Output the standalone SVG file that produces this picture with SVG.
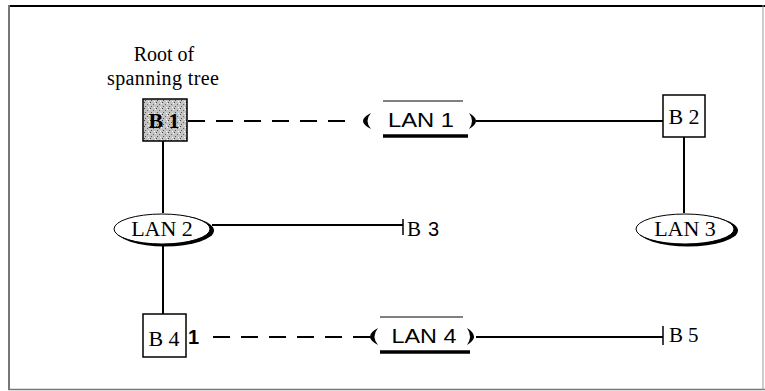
<svg xmlns="http://www.w3.org/2000/svg" width="765" height="391" viewBox="0 0 765 391">
<defs>
<style>
.serif{font-family:"Liberation Serif","Times New Roman",serif;fill:#000}
.sans{font-family:"Liberation Sans",Arial,sans-serif;fill:#000}
.box{fill:#fff;stroke:#000;stroke-width:1.5}
.ln{stroke:#000;stroke-width:2;fill:none}
.dash{stroke:#000;stroke-width:2;fill:none;stroke-dasharray:17 11}
.over{stroke:#000;stroke-width:1}
.under{stroke:#000;stroke-width:3.5}
.cap{fill:#000}
.shadow{fill:#000}
.ell{fill:#fff;stroke:#000;stroke-width:1}
</style>
<pattern id="stip" width="6" height="6" patternUnits="userSpaceOnUse">
<rect width="6" height="6" fill="#c4c4c4"/>
<rect x="0" y="0" width="1" height="1" fill="#444"/>
<rect x="3" y="2" width="1" height="1" fill="#666"/>
<rect x="1" y="4" width="1" height="1" fill="#555"/>
<rect x="4" y="5" width="1" height="1" fill="#fff"/>
<rect x="5" y="1" width="1" height="1" fill="#fff"/>
</pattern>
</defs>
<rect width="765" height="391" fill="#fff"/>
<g id="frame">
<line x1="8" y1="6" x2="765" y2="6" stroke="#000" stroke-width="2"/>
<line x1="9" y1="5" x2="9" y2="390" stroke="#777" stroke-width="2"/>
<line x1="8" y1="389.5" x2="765" y2="389.5" stroke="#777" stroke-width="1.5"/>
<line x1="763" y1="5" x2="763" y2="390" stroke="#999" stroke-width="1"/>
</g>
<g id="connectors">
<line class="dash" x1="188" y1="121" x2="354" y2="121"/>
<line class="ln" x1="476" y1="121" x2="663" y2="121"/>
<line class="ln" x1="684" y1="137" x2="684" y2="213"/>
<line class="ln" x1="163" y1="141" x2="163" y2="213"/>
<line class="ln" x1="163" y1="245" x2="163" y2="314"/>
<line class="ln" x1="212" y1="225" x2="403" y2="225"/>
<line x1="403" y1="219" x2="403" y2="235" stroke="#000" stroke-width="1.5"/>
<line class="dash" x1="213" y1="337" x2="370" y2="337"/>
<line class="ln" x1="476" y1="337" x2="663" y2="337"/>
<line x1="663" y1="326" x2="663" y2="345" stroke="#000" stroke-width="1.5"/>
</g>
<g id="root-label">
<text class="serif" x="164" y="61" font-size="20" text-anchor="middle">Root of</text>
<text class="serif" x="163" y="85" font-size="20" text-anchor="middle" textLength="112" lengthAdjust="spacing">spanning tree</text>
</g>
<g id="B1">
<rect x="143" y="99" width="44" height="42" fill="url(#stip)" stroke="#000" stroke-width="1.5"/>
<text class="serif" x="164" y="128" font-size="22" font-weight="bold" text-anchor="middle">B 1</text>
</g>
<g id="LAN1">
<line class="over" x1="383" y1="101" x2="463" y2="101"/>
<line class="under" x1="383" y1="136" x2="468" y2="136"/>
<path class="cap" d="M371 113 Q355 121 371 129 Q364 121 371 113 Z"/>
<path class="cap" d="M469 113 Q483 121 469 129 Q475 121 469 113 Z"/>
<text class="sans" x="421" y="127" font-size="21" text-anchor="middle" textLength="66" lengthAdjust="spacingAndGlyphs">LAN 1</text>
</g>
<g id="B2">
<rect class="box" x="663" y="95" width="42" height="42"/>
<text class="serif" x="684" y="124" font-size="22" text-anchor="middle">B 2</text>
</g>
<g id="LAN2">
<ellipse class="shadow" cx="165" cy="230.5" rx="49" ry="16"/>
<ellipse class="ell" cx="162" cy="229" rx="48" ry="15"/>
<text class="serif" x="162" y="236" font-size="22" text-anchor="middle">LAN 2</text>
</g>
<g id="B3">
<text class="serif" x="407" y="236" font-size="21">B</text>
<text class="sans" x="428" y="236" font-size="20">3</text>
</g>
<g id="LAN3">
<ellipse class="shadow" cx="688" cy="230.5" rx="50" ry="16"/>
<ellipse class="ell" cx="685" cy="229" rx="49" ry="15"/>
<text class="serif" x="685" y="236" font-size="22" text-anchor="middle">LAN 3</text>
</g>
<g id="B4">
<rect class="box" x="143" y="314" width="43" height="43"/>
<text class="serif" x="164" y="346" font-size="22" text-anchor="middle">B 4</text>
<text class="sans" x="188" y="344" font-size="20" font-weight="bold">1</text>
</g>
<g id="LAN4">
<line class="over" x1="380" y1="317" x2="463" y2="317"/>
<line class="under" x1="380" y1="352" x2="470" y2="352"/>
<path class="cap" d="M378 328 Q362 336.5 378 345 Q371 336.5 378 328 Z"/>
<path class="cap" d="M467 328 Q481 336.5 467 345 Q473 336.5 467 328 Z"/>
<text class="sans" x="424" y="343" font-size="21" text-anchor="middle" textLength="65" lengthAdjust="spacingAndGlyphs">LAN 4</text>
</g>
<g id="B5">
<text class="serif" x="669" y="342" font-size="21">B</text>
<text class="serif" x="688" y="342" font-size="21">5</text>
</g>
</svg>
